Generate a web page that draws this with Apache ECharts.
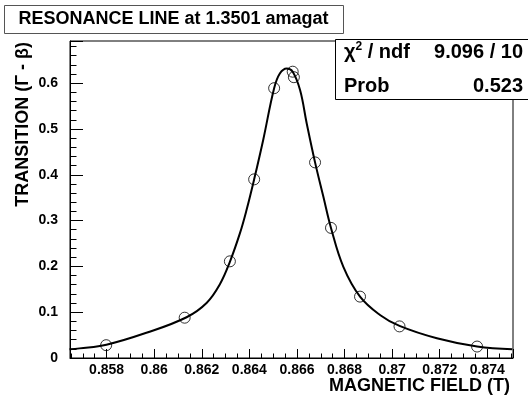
<!DOCTYPE html>
<html><head><meta charset="utf-8">
<script src="https://cdn.jsdelivr.net/npm/echarts@6/dist/echarts.min.js"></script>
<style>html,body{margin:0;padding:0;background:#fff}#c{width:528px;height:401px}</style>
</head><body><div id="c"></div>
<script>
// Measured points
const fieldT = [0.85798, 0.86128, 0.86318, 0.86420, 0.86504, 0.86582, 0.86587, 0.86676, 0.86743, 0.86865, 0.87031, 0.87357];
const transition = [0.028, 0.088, 0.211, 0.390, 0.589, 0.625, 0.613, 0.427, 0.284, 0.134, 0.069, 0.025];
// Fit curve
const fitField = [0.85644, 0.85686, 0.85799, 0.85967, 0.86136, 0.86220, 0.86276, 0.86318, 0.86360, 0.86388, 0.86420, 0.86458, 0.86504, 0.86528, 0.86557, 0.86582, 0.86613, 0.86641, 0.86676, 0.86711, 0.86743, 0.86795, 0.86865, 0.86949, 0.87031, 0.87188, 0.87357, 0.87505];
const fitTransition = [0.019, 0.021, 0.029, 0.055, 0.089, 0.120, 0.161, 0.210, 0.272, 0.323, 0.390, 0.476, 0.589, 0.621, 0.632, 0.625, 0.585, 0.512, 0.427, 0.352, 0.284, 0.199, 0.134, 0.094, 0.070, 0.043, 0.025, 0.019];
const xRange = [0.85646, 0.87508];
const yRange = [0, 0.692];
const titleText = 'RESONANCE LINE at 1.3501 amagat';
const xTitle = 'MAGNETIC FIELD (T)';
const yTitle = 'TRANSITION (\u0393 - \u03B2)';
const statNames = ['Prob'];
const chi2Value = '9.096 / 10';
const probValue = '0.523';

const FONT = '"Liberation Sans", Arial, Helvetica, sans-serif';
const chart = echarts.init(document.getElementById('c'), null, {renderer: 'canvas'});
const pts = fieldT.map((x, i) => [x, transition[i]]);
const fit = fitField.map((x, i) => [x, fitTransition[i]]);

chart.setOption({
  animation: false,
  backgroundColor: '#fff',
  grid: {left: 70, right: 15, top: 41, bottom: 43, show: true, borderColor: '#000', borderWidth: 1, backgroundColor: 'transparent'},
  xAxis: {
    type: 'value', min: xRange[0], max: xRange[1], splitNumber: 9,
    axisLine: {show: true, lineStyle: {color: '#000', width: 1}},
    axisTick: {show: true, inside: true, length: 9, lineStyle: {color: '#000'}},
    minorTick: {show: true, splitNumber: 4, length: 4.5, lineStyle: {color: '#000'}},
    splitLine: {show: false},
    axisLabel: {showMinLabel: false, showMaxLabel: false, margin: 5, color: '#000', fontFamily: FONT, fontWeight: 'bold', fontSize: 14}
  },
  yAxis: {
    type: 'value', min: yRange[0], max: yRange[1], interval: 0.1,
    axisLine: {show: true, lineStyle: {color: '#000', width: 1}},
    axisTick: {show: true, inside: true, length: 13, lineStyle: {color: '#000'}},
    minorTick: {show: true, splitNumber: 5, length: 6.5, lineStyle: {color: '#000'}},
    splitLine: {show: false},
    axisLabel: {showMaxLabel: false, margin: 12, color: '#000', fontFamily: FONT, fontWeight: 'bold', fontSize: 14}
  },
  series: [
    {type: 'line', data: fit, smooth: 0.4, showSymbol: false, symbol: 'none',
     lineStyle: {color: '#000', width: 2}, z: 2, silent: true},
    {type: 'scatter', data: pts, symbol: 'circle', symbolSize: 11,
     itemStyle: {color: 'rgba(0,0,0,0)', borderColor: '#000', borderWidth: 1}, z: 3}
  ],
  graphic: [
    {type: 'rect', left: 4, top: 5, shape: {width: 339, height: 28}, style: {fill: '#fff', stroke: '#555', lineWidth: 1}, z: 10},
    {type: 'text', x: 173.5, y: 19.5, style: {text: titleText, fill: '#000', font: 'bold 18px ' + FONT, align: 'center', verticalAlign: 'middle'}, z: 11},
    {type: 'rect', shape: {x: 335.5, y: 39.5, width: 200, height: 60}, style: {fill: '#fff', stroke: '#000', lineWidth: 1}, z: 10},
    {type: 'text', x: 344, y: 52, style: {
      rich: {g: {font: 'bold 20px ' + FONT, fill: '#000'}, s: {font: 'bold 12px ' + FONT, fill: '#000', verticalAlign: 'top', padding: [0,0,10,0]}},
      text: '{g|\u03C7}{s|2}{g| / ndf}', align: 'left', verticalAlign: 'middle'}, z: 11},
    {type: 'text', x: 523, y: 52, style: {text: chi2Value, fill: '#000', font: 'bold 20px ' + FONT, align: 'right', verticalAlign: 'middle'}, z: 11},
    {type: 'text', x: 344, y: 86, style: {text: statNames[0], fill: '#000', font: 'bold 20px ' + FONT, align: 'left', verticalAlign: 'middle'}, z: 11},
    {type: 'text', x: 523, y: 86, style: {text: probValue, fill: '#000', font: 'bold 20px ' + FONT, align: 'right', verticalAlign: 'middle'}, z: 11},
    {type: 'text', x: 510, y: 386, style: {text: xTitle, fill: '#000', font: 'bold 18px ' + FONT, align: 'right', verticalAlign: 'middle'}, z: 11},
    {type: 'text', x: 23, y: 42, rotation: Math.PI / 2, style: {text: yTitle, fill: '#000', font: 'bold 18px ' + FONT, align: 'right', verticalAlign: 'middle'}, z: 11}
  ]
});
</script></body></html>
